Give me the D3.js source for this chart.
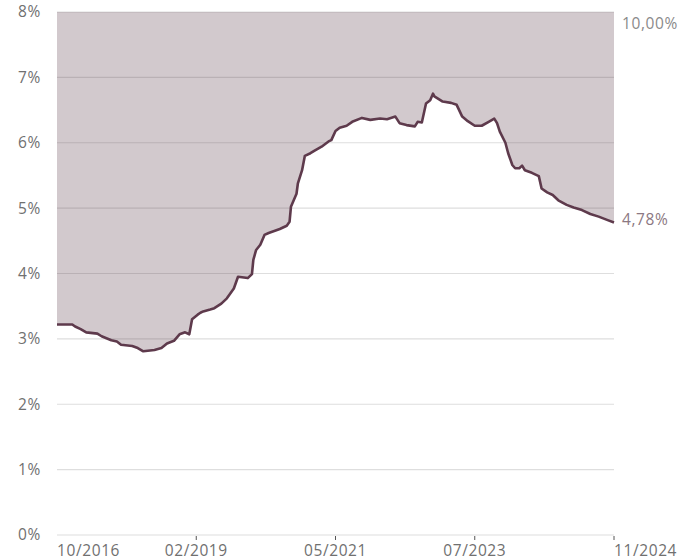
<!DOCTYPE html>
<meta charset="utf-8">
<script src="https://cdn.jsdelivr.net/npm/d3@7"></script>
<style type="text/css">
    body { margin: 0; background: #fff; }
    .tick-label {
        font-family: "Open Sans", sans-serif;
        font-size: 15.5px;
        letter-spacing: 0.6px;
        fill: #707070;
    }
    .end-label {
        font-family: "Open Sans", sans-serif;
        font-size: 15.5px;
        letter-spacing: 0.6px;
    }
</style>

<body>
    <script type="text/javascript">
        // step index along the series (0..400) and rate in %
        var steps = [0, 11, 13, 17, 21, 29, 32, 39, 43, 46, 54, 58, 62, 70, 75, 79, 84, 88, 92, 95,
            97, 101, 103, 105, 110, 113, 118, 122, 127, 130, 137, 140, 141, 143, 146, 149, 152, 160, 165, 167,
            168, 170, 172, 173, 176, 178, 182, 185, 190, 195, 197, 200, 203, 208, 212, 219, 225, 232, 237, 243,
            246, 251, 257, 259, 262, 265, 268, 270, 271, 277, 283, 287, 291, 295, 300, 305, 310, 314, 316, 318,
            322, 324, 327, 329, 332, 334, 336, 341, 346, 348, 352, 356, 360, 366, 371, 377, 383, 389, 395, 400];
        var rates = [3.22, 3.22, 3.19, 3.15, 3.10, 3.08, 3.04, 2.98, 2.96, 2.91, 2.89, 2.86, 2.81, 2.83, 2.86, 2.93, 2.97, 3.07, 3.10, 3.07,
            3.30, 3.37, 3.40, 3.42, 3.45, 3.47, 3.54, 3.62, 3.77, 3.95, 3.93, 3.99, 4.21, 4.36, 4.44, 4.59, 4.62, 4.68, 4.73, 4.79,
            5.02, 5.12, 5.22, 5.38, 5.58, 5.80, 5.84, 5.88, 5.94, 6.02, 6.04, 6.18, 6.23, 6.26, 6.32, 6.38, 6.35, 6.37, 6.36, 6.40,
            6.30, 6.27, 6.25, 6.32, 6.31, 6.60, 6.65, 6.75, 6.71, 6.63, 6.61, 6.58, 6.40, 6.33, 6.26, 6.26, 6.32, 6.37, 6.30, 6.17,
            6.00, 5.84, 5.66, 5.61, 5.61, 5.65, 5.58, 5.54, 5.49, 5.30, 5.24, 5.20, 5.12, 5.05, 5.01, 4.97, 4.91, 4.87, 4.82, 4.78];

        var xTickSteps = [0, 100, 200, 300, 400];
        var xTickLabels = ["10/2016", "02/2019", "05/2021", "07/2023", "11/2024"];
        var yTicks = [0, 1, 2, 3, 4, 5, 6, 7, 8];
        var topLabel = "10,00%";
        var lastLabel = "4,78%";

        var data = steps.map(function (s, i) { return { step: s, rate: rates[i] }; });

        var margin = { top: 12, right: 79, bottom: 25, left: 57 }
            , width = 693 - margin.left - margin.right
            , height = 560 - margin.top - margin.bottom;

        var svg = d3.select("body").append("svg")
            .attr("width", 693)
            .attr("height", 560)
            .append("g")
            .attr("transform", "translate(" + margin.left + "," + margin.top + ")");

        var xScale = d3.scaleLinear().domain([0, 400]).range([0, width]);
        var yScale = d3.scaleLinear().domain([0, 8]).range([height, 0]);

        // gridlines
        svg.selectAll(".grid")
            .data(yTicks)
            .enter().append("line")
            .attr("x1", 0)
            .attr("x2", width)
            .attr("y1", function (d) { return yScale(d); })
            .attr("y2", function (d) { return yScale(d); })
            .style("stroke", "#dedede")
            .style("stroke-width", 1.2);

        // shaded area between line and top
        var area = d3.area()
            .x(function (d) { return xScale(d.step); })
            .y0(yScale(8))
            .y1(function (d) { return yScale(d.rate); });

        svg.append("path")
            .datum(data)
            .attr("d", area)
            .style("fill", "#5d3c4b")
            .style("opacity", 0.28);

        var line = d3.line()
            .x(function (d) { return xScale(d.step); })
            .y(function (d) { return yScale(d.rate); });

        svg.append("path")
            .datum(data)
            .attr("d", line)
            .style("fill", "none")
            .style("stroke", "#5e3a4c")
            .style("stroke-width", 2.6)
            .style("stroke-linejoin", "round");

        // y labels
        svg.selectAll(".ylab")
            .data(yTicks)
            .enter().append("text")
            .attr("class", "tick-label")
            .attr("x", -16)
            .attr("y", function (d) { return yScale(d); })
            .attr("dy", "0.35em")
            .style("text-anchor", "end")
            .text(function (d) { return d + "%"; });

        // x ticks and labels
        svg.selectAll(".xtick")
            .data(xTickSteps.slice(1))
            .enter().append("line")
            .attr("x1", function (d) { return xScale(d); })
            .attr("x2", function (d) { return xScale(d); })
            .attr("y1", height + 1)
            .attr("y2", height + 5)
            .style("stroke", "#555")
            .style("stroke-width", 1);

        svg.selectAll(".xlab")
            .data(xTickSteps)
            .enter().append("text")
            .attr("class", "tick-label")
            .attr("x", function (d) { return xScale(d); })
            .attr("y", height + 16)
            .attr("dy", "0.35em")
            .style("text-anchor", function (d, i) {
                return (i == 0 || i == xTickSteps.length - 1) ? "start" : "middle";
            })
            .text(function (d, i) { return xTickLabels[i]; });

        // right-hand labels
        svg.append("text")
            .attr("class", "end-label")
            .attr("x", width + 8)
            .attr("y", 12)
            .attr("dy", "0.35em")
            .style("fill", "#8a8a8a")
            .text(topLabel);

        svg.append("text")
            .attr("class", "end-label")
            .attr("x", width + 8)
            .attr("y", yScale(rates[rates.length - 1]) - 3)
            .attr("dy", "0.35em")
            .style("fill", "#8c7882")
            .text(lastLabel);
    </script>
</body>

</html>
